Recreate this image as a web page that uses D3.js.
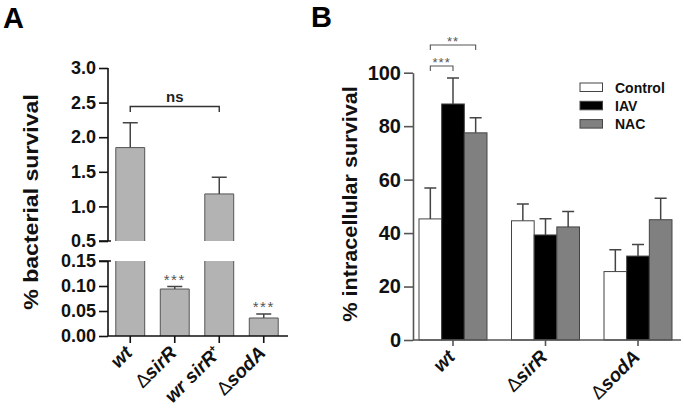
<!DOCTYPE html>
<html><head><meta charset="utf-8">
<script src="https://cdn.jsdelivr.net/npm/d3@7/dist/d3.min.js"></script>
<style>
body{margin:0;background:#fff;}
svg{display:block;font-family:"Liberation Sans",Arial,sans-serif;}
</style></head>
<body><svg id="c" width="684" height="414"></svg>
<script>
// ---------- Panel A data ----------
const catsA = ["wt", "ΔsirR", "wr sirR+", "ΔsodA"];
const valsA = [1.85, 0.094, 1.18, 0.036];
const errA  = [0.36, 0.005, 0.24, 0.008];
const sigA  = ["", "***", "", "***"];
const topTicksA = [0.5, 1.0, 1.5, 2.0, 2.5, 3.0];
const botTicksA = [0, 0.05, 0.10, 0.15];

// ---------- Panel B data ----------
const groupsB = ["wt", "ΔsirR", "ΔsodA"];
const seriesB = ["Control", "IAV", "NAC"];
const controlB = [45.3, 44.6, 25.6];
const controlErrB = [11.6, 6.3, 8.2];
const iavB = [88.3, 39.3, 31.4];
const iavErrB = [9.7, 6.1, 4.3];
const nacB = [77.5, 42.3, 45.0];
const nacErrB = [5.6, 5.8, 8.0];
const ticksB = [0, 20, 40, 60, 80, 100];

const svg = d3.select("#c");

function xLabel(g, label, x, y, size) {
  const t = g.append("text").attr("text-anchor", "end")
    .attr("transform", `translate(${x},${y}) rotate(-45)`)
    .attr("font-size", size).attr("font-weight", "bold").attr("fill", "#111");
  let s = label;
  if (s.startsWith("Δ")) {
    t.append("tspan").attr("font-weight", "normal").text("Δ");
    s = s.slice(1);
  }
  if (s.endsWith("+")) {
    t.append("tspan").attr("font-style", "italic").text(s.slice(0, -1));
    t.append("tspan").attr("font-size", size * 0.55).attr("dy", -size * 0.4).text("+");
  } else {
    t.append("tspan").attr("font-style", "italic").text(s);
  }
}

// ================= PANEL A =================
const A = svg.append("g");
const axA = 108, baseA = 336;
const yTop = d3.scaleLinear().domain([0.5, 3.0]).range([241, 68]);
const yBot = d3.scaleLinear().domain([0, 0.15]).range([baseA, 261]);
const xA = d3.scaleBand().domain(catsA).range([108, 286]).paddingInner(0.35).paddingOuter(0.175);

catsA.forEach((c, i) => {
  const v = valsA[i], x0 = xA(c), w = xA.bandwidth();
  const barStroke = "#555", fill = "#b3b3b3";
  if (v <= 0.15) {
    const yt = yBot(v);
    A.append("rect").attr("x", x0).attr("y", yt).attr("width", w).attr("height", baseA - yt).attr("fill", fill);
    A.append("path").attr("d", `M${x0},${baseA}V${yt}H${x0 + w}V${baseA}`).attr("fill", "none").attr("stroke", barStroke).attr("stroke-width", 1);
  } else {
    A.append("rect").attr("x", x0).attr("y", yBot(0.15)).attr("width", w).attr("height", baseA - yBot(0.15)).attr("fill", fill);
    A.append("path").attr("d", `M${x0},${baseA}V${yBot(0.15)}M${x0 + w},${baseA}V${yBot(0.15)}`).attr("fill", "none").attr("stroke", barStroke);
    const yt = yTop(v);
    A.append("rect").attr("x", x0).attr("y", yt).attr("width", w).attr("height", yTop(0.5) - yt).attr("fill", fill);
    A.append("path").attr("d", `M${x0},${yTop(0.5)}V${yt}H${x0 + w}V${yTop(0.5)}`).attr("fill", "none").attr("stroke", barStroke);
  }
  const ys = v <= 0.15 ? yBot : yTop;
  const cx = x0 + w / 2;
  A.append("path").attr("d", `M${cx},${ys(v)}V${ys(v + errA[i])}M${cx - 7.5},${ys(v + errA[i])}H${cx + 7.5}`)
    .attr("stroke", "#444").attr("stroke-width", 1.5).attr("fill", "none");
  if (sigA[i]) {
    A.append("text").attr("x", cx).attr("y", ys(v + errA[i]) - 2).attr("text-anchor", "middle")
      .attr("font-size", 15).attr("letter-spacing", 1.5).attr("fill", "#555").text(sigA[i]);
  }
});

const gTop = A.append("g").attr("transform", `translate(${axA},0)`)
  .call(d3.axisLeft(yTop).tickValues(topTicksA).tickFormat(d3.format(".1f")).tickSize(9).tickPadding(3));
const gBot = A.append("g").attr("transform", `translate(${axA},0)`)
  .call(d3.axisLeft(yBot).tickValues(botTicksA).tickFormat(d3.format(".2f")).tickSize(9).tickPadding(3));
[gTop, gBot].forEach(g => {
  g.select(".domain").attr("stroke", "#111").attr("stroke-width", 1.6);
  g.selectAll(".tick line").attr("stroke", "#111").attr("stroke-width", 1.6);
  g.selectAll(".tick text").attr("font-size", 18).attr("font-weight", "bold").attr("fill", "#111")
    .attr("font-family", "Liberation Sans, Arial, sans-serif");
});
gTop.select(".domain").attr("d", `M0,${yTop(3.0)}V${yTop(0.5)}H-9M0,${yTop(0.5)}H3`);
gBot.select(".domain").attr("d", `M0,${yBot(0.15)}V${baseA}M-9,${yBot(0.15)}H3`);

A.append("path").attr("d", `M${axA},${baseA}H288`).attr("stroke", "#111").attr("stroke-width", 1.6);
catsA.forEach(c => {
  const cx = xA(c) + xA.bandwidth() / 2;
  A.append("path").attr("d", `M${cx},${baseA}V${baseA + 7}`).attr("stroke", "#111").attr("stroke-width", 1.6);
  xLabel(A, c, cx + 3, baseA + 18, 19);
});

{
  const x1 = xA(catsA[0]) + xA.bandwidth() / 2, x2 = xA(catsA[2]) + xA.bandwidth() / 2;
  A.append("path").attr("d", `M${x1},112V106.5H${x2}V112`).attr("stroke", "#333").attr("stroke-width", 1.4).attr("fill", "none");
  A.append("text").attr("x", (x1 + x2) / 2).attr("y", 101.5).attr("text-anchor", "middle")
    .attr("font-size", 15).attr("font-weight", "bold").attr("fill", "#222").text("ns");
}
A.append("text").attr("transform", "translate(38,202) rotate(-90) scale(1.1,1)").attr("text-anchor", "middle")
  .attr("font-size", 21).attr("font-weight", "bold").attr("fill", "#111").text("% bacterial survival");
svg.append("text").attr("x", 3).attr("y", 28).attr("font-size", 29).attr("font-weight", "bold").attr("fill", "#000").text("A");

// ================= PANEL B =================
const B = svg.append("g");
const axB = 413, baseB = 340;
const yB = d3.scaleLinear().domain([0, 100]).range([baseB, 72.7]);
const xB = d3.scaleBand().domain(groupsB).range([409.75, 681.25]).paddingInner(0.265).paddingOuter(0.1);
const xs = d3.scaleBand().domain(seriesB).range([0, xB.bandwidth()]);
const valsB = [controlB, iavB, nacB];
const errsB = [controlErrB, iavErrB, nacErrB];
const colB = d3.scaleOrdinal().domain(seriesB).range(["#ffffff", "#000000", "#808080"]);

groupsB.forEach((g, gi) => {
  seriesB.forEach((s, si) => {
    const v = valsB[si][gi], e = errsB[si][gi];
    const x0 = xB(g) + xs(s), w = xs.bandwidth(), cx = x0 + w / 2;
    B.append("rect").attr("x", x0).attr("y", yB(v)).attr("width", w).attr("height", baseB - yB(v))
      .attr("fill", colB(s)).attr("stroke", "#444").attr("stroke-width", 1);
    B.append("path").attr("d", `M${cx},${yB(v)}V${yB(v + e)}M${cx - 6},${yB(v + e)}H${cx + 6}`)
      .attr("stroke", "#444").attr("stroke-width", 1.5).attr("fill", "none");
  });
});

const gB = B.append("g").attr("transform", `translate(${axB},0)`)
  .call(d3.axisLeft(yB).tickValues(ticksB).tickSize(9).tickPadding(3).tickSizeOuter(0));
gB.select(".domain").attr("stroke", "#555").attr("stroke-width", 1.6);
gB.selectAll(".tick line").attr("stroke", "#555").attr("stroke-width", 1.6);
gB.selectAll(".tick text").attr("font-size", 20).attr("font-weight", "bold").attr("fill", "#111")
  .attr("font-family", "Liberation Sans, Arial, sans-serif");

B.append("path").attr("d", `M${axB},${baseB}H681`).attr("stroke", "#555").attr("stroke-width", 1.6);
groupsB.forEach(g => {
  const cx = xB(g) + xB.bandwidth() / 2;
  B.append("path").attr("d", `M${cx},${baseB}V${baseB + 6}`).attr("stroke", "#555").attr("stroke-width", 1.6);
  xLabel(B, g, cx + 3, baseB + 18, 19);
});

function bracket(s1, s2, y, label) {
  const x1 = xB(groupsB[0]) + xs(s1) + xs.bandwidth() / 2;
  const x2 = xB(groupsB[0]) + xs(s2) + xs.bandwidth() / 2;
  B.append("path").attr("d", `M${x1},${y + 5}V${y}H${x2}V${y + 5}`).attr("stroke", "#555").attr("stroke-width", 1.1).attr("fill", "none");
  B.append("text").attr("x", (x1 + x2) / 2).attr("y", y + 1).attr("text-anchor", "middle")
    .attr("font-size", 13).attr("letter-spacing", 1).attr("fill", "#555").text(label);
}
bracket("Control", "IAV", 66, "***");
bracket("Control", "NAC", 45, "**");

const leg = B.append("g");
seriesB.forEach((s, i) => {
  const y = 83 + i * 18.3;
  leg.append("rect").attr("x", 580).attr("y", y).attr("width", 22.5).attr("height", 8.5)
    .attr("fill", colB(s)).attr("stroke", "#444").attr("stroke-width", 1);
  leg.append("text").attr("x", 615).attr("y", y + 9.7).attr("font-size", 14).attr("font-weight", "bold").attr("fill", "#111").text(s);
});

B.append("text").attr("transform", "translate(357,204) rotate(-90) scale(1.03,1)").attr("text-anchor", "middle")
  .attr("font-size", 21).attr("font-weight", "bold").attr("fill", "#111").text("% intracellular survival");
svg.append("text").attr("x", 311).attr("y", 27).attr("font-size", 29).attr("font-weight", "bold").attr("fill", "#000").text("B");
</script></body></html>
